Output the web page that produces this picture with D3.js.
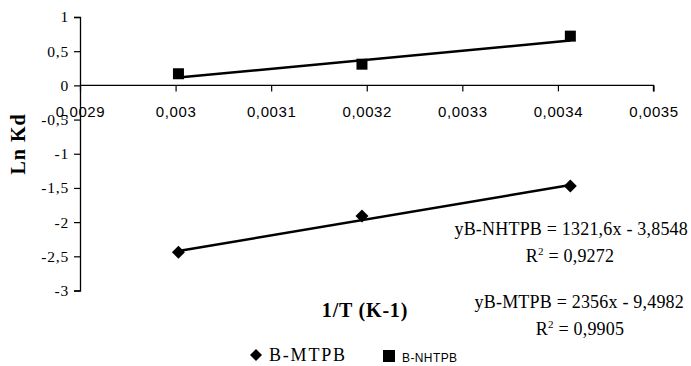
<!DOCTYPE html>
<html>
<head>
<meta charset="utf-8">
<script src="https://cdn.jsdelivr.net/npm/d3@7"></script>
<style>
  html, body { margin: 0; padding: 0; background: #fff; }
  svg { display: block; }
</style>
</head>
<body>
<svg id="chart" width="691" height="366"></svg>
<script>
// 1/T values (K^-1) for the three temperatures
const invT = [0.003003, 0.003195, 0.003413];
// Ln Kd for each extractant
const lnKdMTPB = [-2.44, -1.91, -1.47];
const lnKdNHTPB = [0.17, 0.31, 0.72];
// linear fits [slope, intercept] and their R²
const fitNHTPB = [1321.6, -3.8548];
const fitMTPB = [2356, -9.4982];
const r2NHTPB = "0,9272";
const r2MTPB = "0,9905";
const xTicks = [0.0029, 0.003, 0.0031, 0.0032, 0.0033, 0.0034, 0.0035];
const yTicks = [1, 0.5, 0, -0.5, -1, -1.5, -2, -2.5, -3];
const seriesNames = ["B-MTPB", "B-NHTPB"];

const SERIF = "Liberation Serif";
const SANS = "Liberation Sans";

const svg = d3.select("#chart");
const x = d3.scaleLinear().domain([0.0029, 0.0035]).range([80, 653.5]);
const y = d3.scaleLinear().domain([-3, 1]).range([290.5, 17]);
const fmtComma = v => String(v).replace(".", ",");

// rhombus marker, as wide as it is tall
const rhombus = (s) => `M0,${-s}L${s},0L0,${s}L${-s},0Z`;

// y axis
const yAxis = d3.axisLeft(y).tickValues(yTicks).tickSize(6).tickPadding(5)
  .tickFormat(d => fmtComma(d));
const gy = svg.append("g").attr("transform", "translate(80,0)").call(yAxis)
  .attr("font-family", SERIF).attr("font-size", 15.5);
gy.select(".domain").attr("stroke", "#000").attr("stroke-width", 1.3);
gy.selectAll(".tick line").attr("stroke", "#000").attr("stroke-width", 1.2);
gy.selectAll(".tick text").attr("fill", "#000").attr("letter-spacing", "0.8");

// x axis crossing at y = 0
const xAxis = d3.axisBottom(x).tickValues(xTicks).tickSize(6).tickPadding(15)
  .tickFormat(d => fmtComma(+d.toFixed(4)));
const gx = svg.append("g").attr("transform", `translate(0,${y(0)})`).call(xAxis)
  .attr("font-family", SANS).attr("font-size", 15);
gx.select(".domain").attr("stroke", "#000").attr("stroke-width", 1.3)
  .attr("d", `M80,0H${x(0.0035)}V6`);
gx.selectAll(".tick line").attr("stroke", "#000").attr("stroke-width", 1.2);
gx.selectAll(".tick text").attr("fill", "#000").attr("letter-spacing", "0.6");

// trend lines from the fits
const fitLine = (f) => [invT[0], invT[invT.length - 1]].map(v => [x(v), y(f[0] * v + f[1])]);
[fitNHTPB, fitMTPB].forEach(f => {
  svg.append("path").attr("d", d3.line()(fitLine(f)))
    .attr("stroke", "#000").attr("stroke-width", 2.5).attr("fill", "none");
});

// markers
svg.append("g").selectAll("path").data(invT).join("path")
  .attr("d", rhombus(6.5))
  .attr("transform", (d, i) => `translate(${x(d)},${y(lnKdMTPB[i])})`)
  .attr("fill", "#000");
svg.append("g").selectAll("rect").data(invT).join("rect")
  .attr("x", d => x(d) - 5.5).attr("width", 11).attr("height", 11)
  .attr("y", (d, i) => y(lnKdNHTPB[i]) - 5.5).attr("fill", "#000");

// axis titles
svg.append("text").attr("font-family", SERIF).attr("transform", "translate(25,144) rotate(-90)")
  .attr("text-anchor", "middle").attr("letter-spacing", "1")
  .attr("font-weight", "bold").attr("font-size", 20).text("Ln Kd");
svg.append("text").attr("font-family", SERIF).attr("x", 365).attr("y", 317).attr("text-anchor", "middle")
  .attr("font-weight", "bold").attr("font-size", 20).attr("letter-spacing", "0.8").text("1/T (K-1)");

// fit equations
const eq = (cx, cy, anchor) => svg.append("text").attr("font-family", SERIF).attr("x", cx).attr("y", cy)
  .attr("text-anchor", anchor).attr("font-size", 18).attr("letter-spacing", "0.2").attr("fill", "#000");
const fmtFit = (name, f) => `y${name} = ${fmtComma(f[0])}x - ${fmtComma(Math.abs(f[1]))}`;
const rSquared = (t, val) => {
  t.append("tspan").text("R");
  t.append("tspan").attr("dy", -7).attr("font-size", 11).text("2");
  t.append("tspan").attr("dy", 7).text(" = " + val);
};
eq(688, 235, "end").text(fmtFit(seriesNames[1], fitNHTPB));
rSquared(eq(570, 262, "middle"), r2NHTPB);
eq(684, 308, "end").text(fmtFit(seriesNames[0], fitMTPB));
rSquared(eq(580, 335, "middle"), r2MTPB);

// legend
svg.append("path").attr("d", rhombus(6))
  .attr("transform", "translate(256,355)").attr("fill", "#000");
svg.append("text").attr("font-family", SERIF).attr("x", 269).attr("y", 361)
  .attr("font-size", 18).attr("letter-spacing", "1.8").text(seriesNames[0]);
svg.append("rect").attr("x", 383).attr("y", 350).attr("width", 12).attr("height", 12).attr("fill", "#000");
svg.append("text").attr("font-family", SANS).attr("x", 402).attr("y", 362)
  .attr("font-size", 12).attr("letter-spacing", "0.4").text(seriesNames[1]);
</script>
</body>
</html>
